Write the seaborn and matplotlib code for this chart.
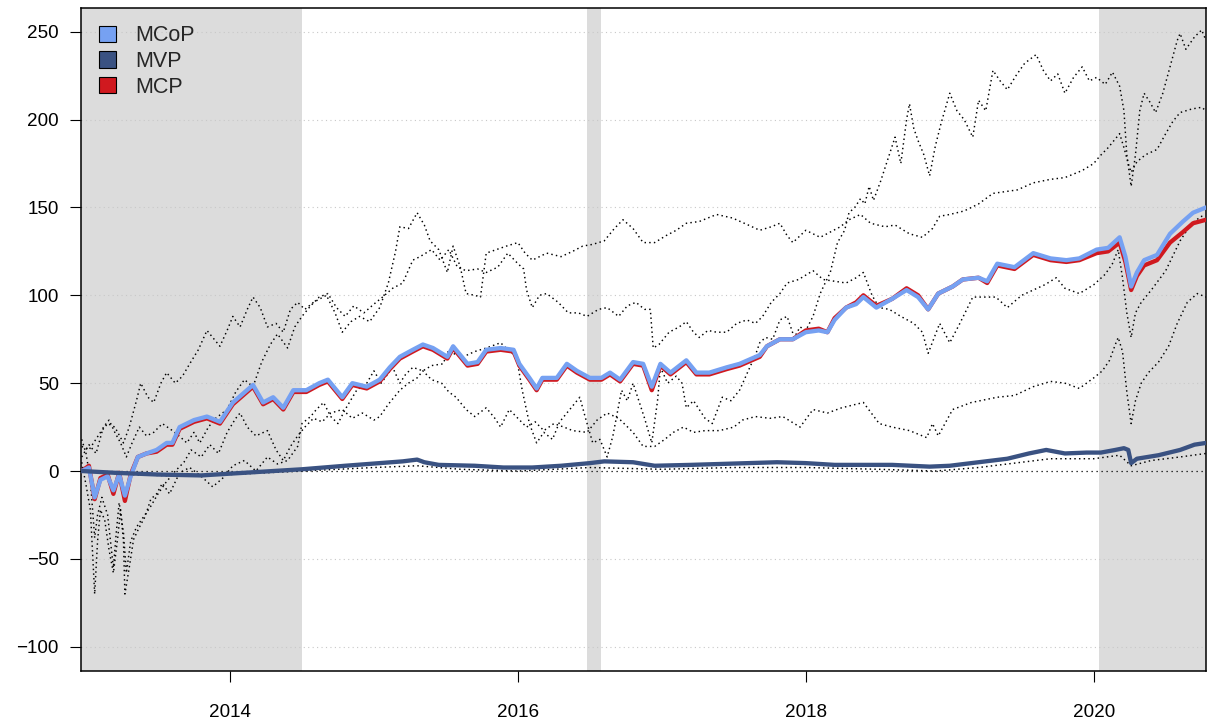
import numpy as np
import pandas as pd
import matplotlib
matplotlib.use("Agg")
import matplotlib.pyplot as plt
from matplotlib.patches import Patch
import seaborn as sns

# (decimal year, cumulative return in %)
mcop = [(2012.97, 0), (2013.02, 2), (2013.06, -15), (2013.10, -5), (2013.15, -3), (2013.19, -11),
        (2013.23, -2), (2013.27, -14), (2013.31, -3), (2013.36, 8), (2013.42, 10), (2013.49, 12),
        (2013.56, 16), (2013.60, 16), (2013.65, 25), (2013.75, 29), (2013.84, 31), (2013.93, 28),
        (2014.02, 39), (2014.09, 44), (2014.16, 49), (2014.23, 39), (2014.30, 42), (2014.37, 36),
        (2014.44, 46), (2014.53, 46), (2014.62, 50), (2014.68, 52), (2014.78, 42), (2014.85, 50),
        (2014.95, 48), (2015.04, 52), (2015.11, 59), (2015.18, 65), (2015.27, 69), (2015.34, 72),
        (2015.41, 70), (2015.51, 65), (2015.55, 71), (2015.65, 61), (2015.72, 62), (2015.78, 69),
        (2015.88, 70), (2015.97, 69), (2016.01, 61), (2016.08, 53), (2016.13, 47), (2016.17, 53),
        (2016.27, 53), (2016.34, 61), (2016.41, 57), (2016.50, 53), (2016.58, 53), (2016.64, 56),
        (2016.71, 52), (2016.80, 62), (2016.87, 61), (2016.93, 48), (2016.99, 61), (2017.06, 56),
        (2017.17, 63), (2017.24, 56), (2017.33, 56), (2017.45, 59), (2017.54, 61), (2017.68, 66),
        (2017.73, 71), (2017.82, 75), (2017.91, 75), (2018.00, 79), (2018.09, 80), (2018.15, 79),
        (2018.20, 86), (2018.28, 93), (2018.35, 95), (2018.40, 99), (2018.49, 93), (2018.60, 98),
        (2018.70, 103), (2018.78, 99), (2018.85, 92), (2018.92, 101), (2019.02, 105), (2019.09, 109),
        (2019.20, 110), (2019.26, 108), (2019.33, 118), (2019.45, 116), (2019.58, 124), (2019.70, 121),
        (2019.81, 120), (2019.90, 121), (2020.02, 126), (2020.10, 127), (2020.18, 133), (2020.22, 122),
        (2020.26, 105), (2020.30, 113), (2020.35, 120), (2020.44, 123), (2020.53, 135), (2020.62, 142),
        (2020.69, 147), (2020.78, 150)]

mcp = [(2012.97, 0), (2013.02, 3), (2013.06, -16), (2013.10, -4), (2013.15, -2), (2013.19, -13),
       (2013.23, -1), (2013.27, -17), (2013.31, -2), (2013.36, 8), (2013.42, 10), (2013.49, 11),
       (2013.56, 15), (2013.60, 15), (2013.65, 24), (2013.75, 28), (2013.84, 30), (2013.93, 27),
       (2014.02, 38), (2014.09, 43), (2014.16, 48), (2014.23, 38), (2014.30, 41), (2014.37, 35),
       (2014.44, 45), (2014.53, 45), (2014.62, 49), (2014.68, 51), (2014.78, 41), (2014.85, 49),
       (2014.95, 47), (2015.04, 51), (2015.11, 58), (2015.18, 64), (2015.27, 68), (2015.34, 71),
       (2015.41, 69), (2015.51, 64), (2015.55, 70), (2015.65, 60), (2015.72, 61), (2015.78, 68),
       (2015.88, 69), (2015.97, 68), (2016.01, 60), (2016.08, 52), (2016.13, 46), (2016.17, 52),
       (2016.27, 52), (2016.34, 60), (2016.41, 56), (2016.50, 52), (2016.58, 52), (2016.64, 55),
       (2016.71, 51), (2016.80, 61), (2016.87, 60), (2016.93, 46), (2016.99, 60), (2017.06, 55),
       (2017.17, 62), (2017.24, 55), (2017.33, 55), (2017.45, 58), (2017.54, 60), (2017.68, 65),
       (2017.73, 71), (2017.82, 75), (2017.91, 75), (2018.00, 80), (2018.09, 81), (2018.15, 79),
       (2018.20, 87), (2018.28, 93), (2018.35, 96), (2018.40, 100), (2018.49, 94), (2018.60, 98),
       (2018.70, 104), (2018.78, 100), (2018.85, 92), (2018.92, 101), (2019.02, 105), (2019.09, 109),
       (2019.20, 110), (2019.26, 107), (2019.33, 117), (2019.45, 115), (2019.58, 123), (2019.70, 120),
       (2019.81, 119), (2019.90, 120), (2020.02, 124), (2020.10, 125), (2020.18, 130), (2020.22, 119),
       (2020.26, 103), (2020.30, 111), (2020.35, 117), (2020.44, 120), (2020.53, 130), (2020.62, 136),
       (2020.69, 141), (2020.78, 143)]

mvp = [(2012.97, 0), (2013.20, -1), (2013.50, -2), (2013.80, -2.5), (2014.00, -1.5), (2014.30, 0),
       (2014.50, 1), (2014.80, 3), (2015.04, 4.5), (2015.20, 5.5), (2015.30, 6.5), (2015.35, 5),
       (2015.45, 3.5), (2015.70, 3), (2015.90, 2), (2016.10, 2), (2016.30, 3), (2016.50, 4.5),
       (2016.60, 5.5), (2016.80, 5), (2016.95, 3), (2017.20, 3.5), (2017.40, 4), (2017.60, 4.5),
       (2017.80, 5), (2018.00, 4.5), (2018.20, 3.5), (2018.40, 3.5), (2018.60, 3.5), (2018.86, 2.5),
       (2019.00, 3), (2019.20, 5), (2019.40, 7), (2019.55, 10), (2019.67, 12), (2019.80, 10),
       (2019.95, 10.5), (2020.05, 10.5), (2020.15, 12), (2020.21, 13), (2020.24, 12), (2020.26, 4.5),
       (2020.30, 7), (2020.45, 9), (2020.60, 12), (2020.70, 15), (2020.78, 16)]

# individual assets (dotted)
asset_a = [(2012.97, 5), (2013.00, -8), (2013.03, -22), (2013.06, -70), (2013.08, -40), (2013.10, -22),
           (2013.13, -28), (2013.16, -45), (2013.19, -58), (2013.22, -38), (2013.24, -22), (2013.26, -40),
           (2013.27, -70), (2013.30, -55), (2013.33, -39), (2013.37, -32), (2013.41, -26), (2013.45, -16),
           (2013.49, -13), (2013.53, -7), (2013.58, -13), (2013.65, -1), (2013.72, 2), (2013.80, -3),
           (2013.88, -9), (2013.95, -4), (2014.02, 3), (2014.10, 6), (2014.18, 0), (2014.26, 8),
           (2014.33, 4), (2014.40, 6), (2014.47, 14), (2014.50, 27), (2014.56, 31), (2014.60, 35),
           (2014.65, 39), (2014.70, 31), (2014.75, 27), (2014.80, 35), (2014.88, 46), (2014.95, 50),
           (2015.00, 57), (2015.05, 50), (2015.13, 59), (2015.18, 50), (2015.22, 55), (2015.27, 59),
           (2015.34, 57), (2015.40, 60), (2015.48, 61), (2015.52, 69), (2015.57, 66), (2015.62, 65),
           (2015.70, 68), (2015.78, 70), (2015.88, 73), (2015.93, 69), (2015.99, 65), (2016.03, 46),
           (2016.08, 27), (2016.13, 16), (2016.18, 22), (2016.24, 18), (2016.29, 28), (2016.34, 33),
           (2016.39, 38), (2016.43, 42), (2016.47, 30), (2016.52, 16), (2016.57, 18), (2016.62, 8),
           (2016.66, 20), (2016.72, 46), (2016.76, 40), (2016.80, 50), (2016.84, 40), (2016.88, 30),
           (2016.93, 16), (2016.97, 40), (2016.99, 59), (2017.04, 50), (2017.10, 54), (2017.14, 50),
           (2017.17, 36), (2017.22, 40), (2017.26, 35), (2017.30, 30), (2017.35, 27), (2017.42, 42),
           (2017.48, 40), (2017.54, 46), (2017.60, 57), (2017.65, 66), (2017.68, 73), (2017.72, 76),
           (2017.77, 75), (2017.82, 86), (2017.87, 88), (2017.92, 76), (2017.96, 82), (2018.00, 80),
           (2018.05, 88), (2018.10, 101), (2018.14, 108), (2018.17, 113), (2018.22, 130), (2018.27, 137),
           (2018.30, 147), (2018.34, 150), (2018.38, 155), (2018.41, 152), (2018.44, 162), (2018.47, 154),
           (2018.52, 165), (2018.58, 180), (2018.62, 190), (2018.66, 175), (2018.70, 200), (2018.72, 209),
           (2018.75, 195), (2018.78, 188), (2018.82, 180), (2018.86, 168), (2018.90, 185), (2018.94, 198),
           (2019.00, 215), (2019.05, 205), (2019.10, 200), (2019.16, 190), (2019.20, 211), (2019.25, 205),
           (2019.30, 228), (2019.35, 222), (2019.40, 217), (2019.46, 225), (2019.52, 232), (2019.60, 237),
           (2019.65, 228), (2019.70, 222), (2019.75, 226), (2019.80, 215), (2019.86, 224), (2019.92, 230),
           (2019.97, 222), (2020.02, 224), (2020.08, 220), (2020.13, 227), (2020.18, 219), (2020.21, 205),
           (2020.23, 180), (2020.26, 162), (2020.29, 180), (2020.32, 205), (2020.35, 215), (2020.39, 210),
           (2020.43, 204), (2020.48, 215), (2020.53, 230), (2020.58, 245), (2020.60, 249), (2020.64, 240),
           (2020.70, 247), (2020.75, 251), (2020.78, 245)]

asset_b = [(2012.97, 14), (2013.02, 12), (2013.10, 22), (2013.15, 27), (2013.20, 25), (2013.26, 16),
           (2013.30, 25), (2013.35, 40), (2013.38, 50), (2013.43, 42), (2013.47, 39), (2013.52, 50),
           (2013.56, 56), (2013.62, 50), (2013.67, 54), (2013.72, 61), (2013.78, 69), (2013.84, 80),
           (2013.88, 76), (2013.93, 71), (2013.98, 80), (2014.02, 88), (2014.07, 82), (2014.12, 92),
           (2014.16, 99), (2014.21, 93), (2014.26, 82), (2014.32, 84), (2014.37, 79), (2014.42, 92),
           (2014.47, 96), (2014.52, 92), (2014.58, 96), (2014.67, 100), (2014.73, 90), (2014.78, 79),
           (2014.84, 85), (2014.90, 88), (2014.97, 85), (2015.04, 93), (2015.10, 107), (2015.15, 125),
           (2015.18, 139), (2015.24, 138), (2015.30, 147), (2015.35, 140), (2015.39, 131), (2015.45, 126),
           (2015.51, 113), (2015.55, 128), (2015.60, 116), (2015.64, 101), (2015.70, 100), (2015.74, 99),
           (2015.78, 124), (2015.85, 126), (2015.92, 128), (2016.00, 130), (2016.05, 124), (2016.10, 120),
           (2016.20, 124), (2016.30, 122), (2016.38, 125), (2016.45, 128), (2016.52, 129), (2016.60, 131),
           (2016.67, 138), (2016.73, 143), (2016.80, 138), (2016.87, 130), (2016.95, 130), (2017.03, 134),
           (2017.10, 137), (2017.17, 141), (2017.26, 142), (2017.38, 146), (2017.49, 144), (2017.60, 140),
           (2017.68, 137), (2017.76, 139), (2017.82, 141), (2017.87, 134), (2017.91, 130), (2018.00, 137),
           (2018.05, 135), (2018.10, 133), (2018.17, 136), (2018.24, 139), (2018.30, 143), (2018.38, 146),
           (2018.45, 141), (2018.55, 139), (2018.62, 140), (2018.72, 135), (2018.81, 133), (2018.88, 138),
           (2018.93, 145), (2019.00, 146), (2019.10, 148), (2019.20, 152), (2019.30, 158), (2019.47, 160),
           (2019.58, 164), (2019.70, 166), (2019.80, 167), (2019.92, 171), (2020.00, 175), (2020.04, 179),
           (2020.10, 184), (2020.15, 189), (2020.18, 192), (2020.21, 184), (2020.24, 175), (2020.26, 170),
           (2020.30, 176), (2020.36, 180), (2020.44, 183), (2020.50, 192), (2020.55, 199), (2020.60, 204),
           (2020.68, 206), (2020.75, 207), (2020.78, 205)]

asset_c = [(2012.97, 8), (2013.02, 15), (2013.07, 10), (2013.12, 25), (2013.16, 29), (2013.20, 22),
           (2013.24, 16), (2013.28, 8), (2013.32, 16), (2013.37, 25), (2013.42, 20), (2013.47, 22),
           (2013.53, 27), (2013.60, 23), (2013.66, 19), (2013.70, 16), (2013.75, 22), (2013.79, 16),
           (2013.85, 25), (2013.90, 30), (2013.98, 35), (2014.04, 45), (2014.10, 52), (2014.16, 48),
           (2014.22, 62), (2014.28, 72), (2014.33, 78), (2014.40, 70), (2014.45, 82), (2014.50, 88),
           (2014.56, 94), (2014.62, 99), (2014.68, 101), (2014.74, 93), (2014.80, 88), (2014.86, 94),
           (2014.93, 90), (2015.00, 95), (2015.06, 99), (2015.13, 104), (2015.20, 107), (2015.27, 120),
           (2015.32, 122), (2015.40, 126), (2015.46, 120), (2015.52, 126), (2015.58, 116), (2015.64, 114),
           (2015.72, 115), (2015.78, 113), (2015.86, 116), (2015.93, 124), (2016.00, 118), (2016.04, 115),
           (2016.06, 103), (2016.10, 93), (2016.15, 100), (2016.20, 101), (2016.28, 96), (2016.35, 90),
           (2016.42, 90), (2016.48, 88), (2016.56, 92), (2016.62, 93), (2016.70, 88), (2016.76, 94),
           (2016.82, 96), (2016.88, 92), (2016.92, 92), (2016.94, 70), (2016.98, 72), (2017.05, 79),
           (2017.12, 82), (2017.17, 85), (2017.22, 79), (2017.26, 76), (2017.32, 80), (2017.38, 79),
           (2017.45, 79), (2017.52, 84), (2017.59, 86), (2017.65, 84), (2017.70, 88), (2017.76, 96),
           (2017.82, 101), (2017.87, 107), (2017.95, 109), (2018.05, 114), (2018.12, 109), (2018.20, 108),
           (2018.28, 107), (2018.35, 110), (2018.40, 113), (2018.46, 100), (2018.51, 93), (2018.58, 92),
           (2018.66, 88), (2018.75, 84), (2018.81, 79), (2018.85, 67), (2018.93, 84), (2019.00, 73),
           (2019.07, 84), (2019.16, 99), (2019.25, 99), (2019.32, 99), (2019.40, 93), (2019.50, 100),
           (2019.58, 103), (2019.66, 106), (2019.74, 110), (2019.80, 104), (2019.90, 101), (2020.00, 106),
           (2020.08, 112), (2020.13, 118), (2020.17, 126), (2020.20, 110), (2020.23, 90), (2020.26, 76),
           (2020.29, 90), (2020.33, 96), (2020.40, 103), (2020.50, 114), (2020.60, 131), (2020.68, 141),
           (2020.75, 145), (2020.78, 143)]

asset_d = [(2012.97, 18), (2013.00, 10), (2013.03, -5), (2013.06, -38), (2013.08, -25), (2013.11, -15),
           (2013.15, -25), (2013.19, -55), (2013.21, -35), (2013.23, -18), (2013.26, -35), (2013.28, -58),
           (2013.31, -40), (2013.35, -32), (2013.40, -26), (2013.45, -20), (2013.50, -13), (2013.55, -7),
           (2013.62, 0), (2013.68, 5), (2013.73, 12), (2013.80, 8), (2013.86, 15), (2013.92, 10),
           (2013.98, 22), (2014.04, 30), (2014.07, 33), (2014.12, 25), (2014.18, 20), (2014.26, 23),
           (2014.32, 12), (2014.37, 6), (2014.42, 14), (2014.47, 20), (2014.52, 25), (2014.58, 30),
           (2014.64, 28), (2014.70, 33), (2014.78, 35), (2014.85, 30), (2014.92, 33), (2015.00, 29),
           (2015.04, 31), (2015.10, 38), (2015.18, 46), (2015.24, 50), (2015.30, 53), (2015.34, 57),
           (2015.40, 52), (2015.47, 50), (2015.52, 45), (2015.57, 42), (2015.64, 35), (2015.70, 31),
           (2015.78, 36), (2015.84, 30), (2015.88, 25), (2015.94, 35), (2016.00, 30), (2016.06, 25),
           (2016.12, 28), (2016.18, 23), (2016.25, 27), (2016.32, 25), (2016.38, 23), (2016.48, 22),
           (2016.55, 29), (2016.62, 33), (2016.70, 30), (2016.80, 22), (2016.87, 14), (2016.95, 14),
           (2017.02, 18), (2017.08, 22), (2017.15, 25), (2017.22, 22), (2017.30, 23), (2017.40, 23),
           (2017.50, 25), (2017.56, 29), (2017.65, 31), (2017.75, 30), (2017.84, 31), (2017.96, 25),
           (2018.05, 35), (2018.15, 33), (2018.25, 36), (2018.40, 39), (2018.51, 27), (2018.60, 25),
           (2018.72, 23), (2018.84, 19), (2018.88, 27), (2018.92, 20), (2019.02, 35), (2019.15, 39),
           (2019.33, 42), (2019.45, 43), (2019.58, 48), (2019.70, 51), (2019.80, 50), (2019.90, 47),
           (2020.00, 53), (2020.06, 57), (2020.11, 63), (2020.15, 72), (2020.17, 76), (2020.20, 68),
           (2020.23, 45), (2020.26, 27), (2020.29, 40), (2020.33, 50), (2020.38, 56), (2020.45, 62),
           (2020.52, 71), (2020.58, 84), (2020.65, 96), (2020.72, 101), (2020.78, 99)]

asset_e = [(2012.97, 0), (2013.30, -2), (2013.70, -3), (2014.00, -2), (2014.50, 0), (2015.00, 2),
           (2015.30, 3), (2015.60, 1), (2016.00, 0), (2016.50, 2), (2017.00, 1), (2017.50, 2),
           (2018.00, 2), (2018.50, 1), (2018.90, 0), (2019.20, 2), (2019.50, 5), (2019.70, 7),
           (2020.00, 7), (2020.18, 9), (2020.26, 3), (2020.40, 6), (2020.60, 8), (2020.78, 10)]

# shaded periods
shade_periods = [(2012.965, 2014.5), (2016.48, 2016.58), (2020.04, 2020.78)]

labels = ["MCoP", "MVP", "MCP"]
colors = {"MCoP": "#76A1F2", "MVP": "#3A5282", "MCP": "#D0191F"}

sns.set_style("white")
plt.rcParams['font.family'] = ['Liberation Sans', 'DejaVu Sans']

fig = plt.figure(figsize=(12.1, 7.23), dpi=100)
ax = fig.add_axes([81 / 1210, 1 - 671 / 723, 1125 / 1210, 663 / 723])

for lo, hi in shade_periods:
    ax.axvspan(lo, hi, color="#DCDCDC", lw=0, zorder=0)

for yv in [-100, -50, 50, 100, 150, 200, 250]:
    ax.axhline(yv, color="#C8C8C8", lw=0.8, ls=(0, (1, 3)), zorder=0.5)
ax.axhline(0, color="black", lw=0.9, ls=(0, (1, 3)), zorder=1)

dotted = (0, (1, 2.2))
for series in [asset_a, asset_b, asset_c, asset_d, asset_e]:
    d = pd.DataFrame(series, columns=["t", "v"])
    sns.lineplot(data=d, x="t", y="v", ax=ax, color="black", lw=1.05,
                 linestyle=dotted, legend=False, zorder=2)

for name, series in [("MCP", mcp), ("MCoP", mcop), ("MVP", mvp)]:
    d = pd.DataFrame(series, columns=["t", "v"])
    sns.lineplot(data=d, x="t", y="v", ax=ax, color=colors[name], lw=3.1,
                 legend=False, zorder=3)

ax.set_xlim(2012.965, 2020.78)
ax.set_ylim(-113.8, 263.5)
ax.set_xticks([2014, 2016, 2018, 2020])
ax.set_xticklabels(["2014", "2016", "2018", "2020"])
ax.set_yticks([-100, -50, 0, 50, 100, 150, 200, 250])
ax.set_xlabel("")
ax.set_ylabel("")

for s in ax.spines.values():
    s.set_visible(True)
    s.set_color("black")
    s.set_linewidth(1.1)

ax.tick_params(axis="both", direction="out", length=8, width=0.8, colors="black",
               labelsize=13.6, left=True, bottom=True)
ax.tick_params(axis="x", pad=16)
ax.tick_params(axis="y", pad=8)

handles = [Patch(facecolor=colors[l], edgecolor="black", linewidth=0.8) for l in labels]
ax.legend(handles, labels, loc="upper left", bbox_to_anchor=(0.016, 0.974), frameon=False,
          fontsize=15.5, handlelength=0.8, handleheight=0.8, handletextpad=0.9,
          labelspacing=0.22, borderpad=0, borderaxespad=0)

fig.savefig("out.png", dpi=100)
